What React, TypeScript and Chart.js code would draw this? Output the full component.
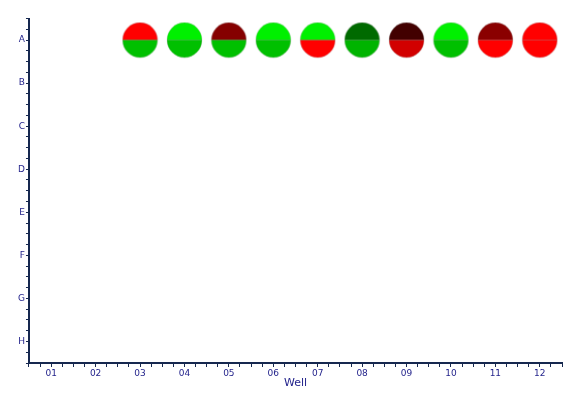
import React, { useEffect, useRef } from 'react';
import { Chart, registerables } from 'chart.js';

Chart.register(...registerables);

const rowLabels = ['A', 'B', 'C', 'D', 'E', 'F', 'G', 'H'];
const columnLabels = ['01', '02', '03', '04', '05', '06', '07', '08', '09', '10', '11', '12'];

// wells present on the plate (column number, row index 1 = A)
const wellColumns = [3, 4, 5, 6, 7, 8, 9, 10, 11, 12];
const wellRows = [1, 1, 1, 1, 1, 1, 1, 1, 1, 1];
const topColors = ['#ff0000', '#00f000', '#850000', '#00f000', '#00f000', '#006a00', '#420000', '#00f000', '#8a0000', '#ff0000'];
const bottomColors = ['#00c000', '#00c000', '#00c000', '#00c000', '#ff0000', '#00b400', '#d20000', '#00c000', '#ff0000', '#ff0000'];

const AXIS_COLOR = '#16284f';
const LABEL_COLOR = '#24248c';
const WELL_RADIUS = 17.5;

function makeWell(top: string, bottom: string, r: number): HTMLCanvasElement {
  const size = Math.ceil(r * 2) + 2;
  const c = document.createElement('canvas');
  c.width = size;
  c.height = size;
  const ctx = c.getContext('2d')!;
  const cx = size / 2;
  const cy = size / 2;
  ctx.beginPath();
  ctx.arc(cx, cy, r, Math.PI, 2 * Math.PI);
  ctx.closePath();
  ctx.fillStyle = top;
  ctx.fill();
  ctx.beginPath();
  ctx.arc(cx, cy, r, 0, Math.PI);
  ctx.closePath();
  ctx.fillStyle = bottom;
  ctx.fill();
  ctx.beginPath();
  ctx.moveTo(cx - r, cy);
  ctx.lineTo(cx + r, cy);
  ctx.strokeStyle = 'rgba(0,0,0,0.15)';
  ctx.lineWidth = 1;
  ctx.stroke();
  ctx.beginPath();
  ctx.arc(cx, cy, r, 0, 2 * Math.PI);
  ctx.strokeStyle = 'rgba(150,150,150,0.45)';
  ctx.lineWidth = 0.6;
  ctx.stroke();
  return c;
}

const isInt = (v: number) => Math.abs(v - Math.round(v)) < 1e-6;

export default function App() {
  const ref = useRef<HTMLCanvasElement>(null);

  useEffect(() => {
    if (!ref.current) return;
    const images = wellColumns.map((_, i) => makeWell(topColors[i], bottomColors[i], WELL_RADIUS));
    const chart = new Chart(ref.current, {
      type: 'scatter',
      data: {
        datasets: [
          {
            data: wellColumns.map((c, i) => ({ x: c, y: wellRows[i] })),
            pointStyle: images as any,
            pointRadius: WELL_RADIUS,
          },
        ],
      },
      options: {
        animation: false,
        responsive: false,
        events: [],
        layout: { padding: { top: 13, right: 25, left: 17, bottom: 11 } },
        plugins: { legend: { display: false }, tooltip: { enabled: false } },
        scales: {
          x: {
            type: 'linear',
            min: 0.5,
            max: 12.5,
            afterBuildTicks: (scale: any) => {
              const t = [];
              for (let v = 0.5; v <= 12.5 + 1e-9; v += 0.25) t.push({ value: v });
              scale.ticks = t;
            },
            ticks: {
              autoSkip: false,
              maxRotation: 0,
              padding: 1,
              color: LABEL_COLOR,
              font: { family: 'DejaVu Sans', size: 9 },
              callback: (v: any) => (isInt(Number(v)) ? columnLabels[Math.round(Number(v)) - 1] : ''),
            },
            grid: { drawOnChartArea: false, tickLength: 4, color: AXIS_COLOR, tickColor: AXIS_COLOR },
            border: { color: AXIS_COLOR, width: 2 },
            title: {
              display: true,
              text: 'Well',
              color: LABEL_COLOR,
              font: { family: 'DejaVu Sans', size: 11 },
              padding: { top: -3, bottom: 0 },
            },
          },
          y: {
            type: 'linear',
            reverse: true,
            min: 0.5,
            max: 8.5,
            afterBuildTicks: (scale: any) => {
              const t = [];
              for (let v = 0.5; v <= 8.5 + 1e-9; v += 0.25) t.push({ value: v });
              scale.ticks = t;
            },
            ticks: {
              autoSkip: false,
              padding: 1,
              color: LABEL_COLOR,
              font: { family: 'DejaVu Sans', size: 9 },
              callback: (v: any) => (isInt(Number(v)) ? rowLabels[Math.round(Number(v)) - 1] : ''),
            },
            grid: { drawOnChartArea: false, tickLength: 3, color: AXIS_COLOR, tickColor: AXIS_COLOR },
            border: { color: AXIS_COLOR, width: 2 },
          },
        },
      },
    });
    return () => chart.destroy();
  }, []);

  return (
    <div style={{ position: 'fixed', left: 0, top: 0, width: 587, height: 401, background: '#fff' }}>
      <canvas ref={ref} width={587} height={401} style={{ display: 'block' }} />
    </div>
  );
}
